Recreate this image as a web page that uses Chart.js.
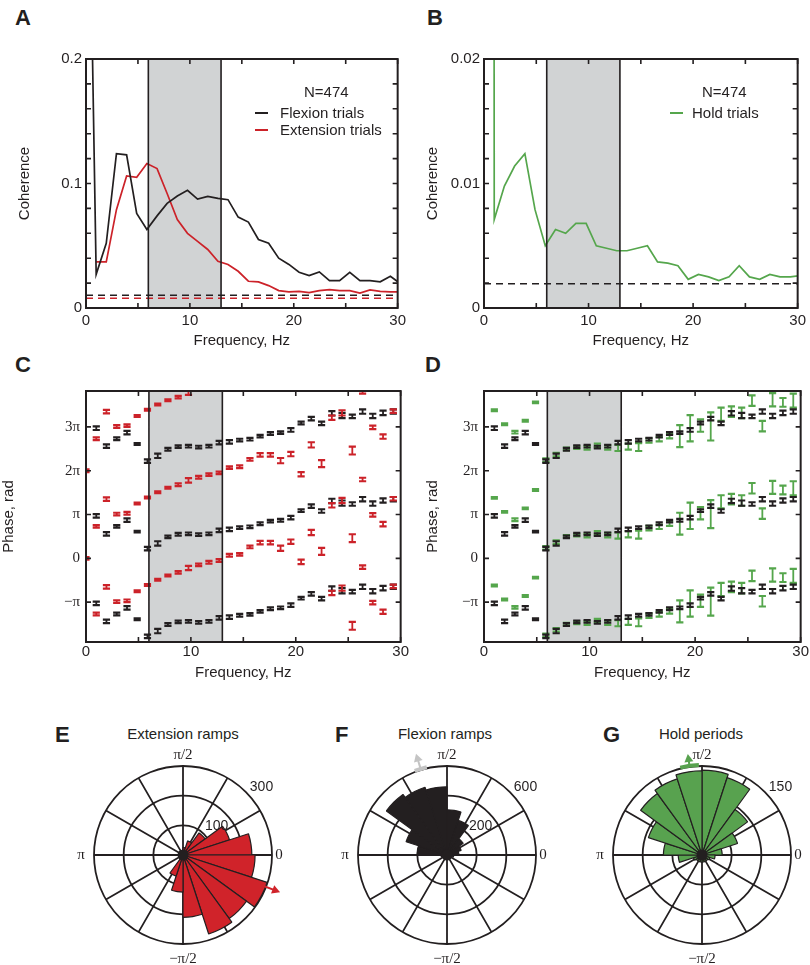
<!DOCTYPE html>
<html lang="en">
<head>
<meta charset="UTF-8">
<title>Coherence and phase</title>
<style>
  body { margin: 0; width: 810px; height: 965px; position: relative; overflow: hidden; background: #fff;
         font-family: 'Liberation Sans', Arial, sans-serif; color: #231f20; }
  canvas { position: absolute; }
  .panel { position: absolute; font-weight: bold; font-size: 22px; line-height: 1; }
  .txt { position: absolute; font-size: 15px; line-height: 1; white-space: nowrap; }
  .ttl { position: absolute; font-size: 15px; line-height: 1; white-space: nowrap; transform: translateX(-50%); }
  .key { position: absolute; height: 2px; width: 13px; }
</style>
</head>
<body>
<div class="panel" style="left:15px;top:7px">A</div>
<div class="panel" style="left:427px;top:7px">B</div>
<div class="panel" style="left:15px;top:354px">C</div>
<div class="panel" style="left:425px;top:354px">D</div>
<div class="panel" style="left:55px;top:724px">E</div>
<div class="panel" style="left:335px;top:724px">F</div>
<div class="panel" style="left:603px;top:724px">G</div>

<canvas id="chartA" width="410" height="310" style="left:0;top:40px"></canvas>
<canvas id="chartB" width="405" height="310" style="left:405px;top:40px"></canvas>
<canvas id="chartC" width="410" height="312" style="left:0;top:370px"></canvas>
<canvas id="chartD" width="405" height="312" style="left:405px;top:370px"></canvas>
<canvas id="chartE" width="220" height="230" style="left:73px;top:745px"></canvas>
<canvas id="chartF" width="220" height="230" style="left:337px;top:745px"></canvas>
<canvas id="chartG" width="220" height="230" style="left:592px;top:745px"></canvas>

<!-- legends -->
<div class="txt" style="left:304px;top:84px">N=474</div>
<div class="key" style="left:255px;top:112px;background:#231f20"></div>
<div class="txt" style="left:280px;top:105px">Flexion trials</div>
<div class="key" style="left:255px;top:129px;background:#cc2229"></div>
<div class="txt" style="left:280px;top:122px">Extension trials</div>
<div class="txt" style="left:702px;top:84px">N=474</div>
<div class="key" style="left:670px;top:112px;background:#55a64c"></div>
<div class="txt" style="left:692px;top:105px">Hold trials</div>

<div class="ttl" style="left:183px;top:726px">Extension ramps</div>
<div class="ttl" style="left:445px;top:726px">Flexion ramps</div>
<div class="ttl" style="left:701px;top:726px">Hold periods</div>

<script src="https://cdn.jsdelivr.net/npm/chart.js"></script>
<script>
// ---- data ----
const freqs = [0, 0.98, 1.95, 2.93, 3.91, 4.88, 5.86, 6.84, 7.81, 8.79, 9.77, 10.74, 11.72, 12.70, 13.67, 14.65,
               15.63, 16.60, 17.58, 18.55, 19.53, 20.51, 21.48, 22.46, 23.44, 24.41, 25.39, 26.37, 27.34, 28.32, 29.30, 30.27];

// coherence (panels A, B)
const flexCoh = [0.51, 0.027, 0.052, 0.124, 0.123, 0.076, 0.063, 0.074, 0.084, 0.090, 0.0945, 0.0875, 0.0897, 0.088, 0.087, 0.073,
                 0.069, 0.055, 0.052, 0.040, 0.035, 0.0287, 0.026, 0.029, 0.022, 0.022, 0.0287, 0.022, 0.022, 0.021, 0.0255, 0.0195];
const extCoh = [null, 0.037, 0.037, 0.079, 0.106, 0.105, 0.116, 0.112, 0.092, 0.071, 0.060, 0.0535, 0.047, 0.0375, 0.035, 0.0295,
                0.0215, 0.021, 0.018, 0.014, 0.013, 0.0134, 0.0123, 0.014, 0.0147, 0.014, 0.014, 0.012, 0.0145, 0.0134, 0.013, 0.013];
const holdCoh = [1.0, 0.0071, 0.0098, 0.0114, 0.0124, 0.0079, 0.0050, 0.0063, 0.0060, 0.0068, 0.0068, 0.0050, 0.0048, 0.0046, 0.0046, 0.0048,
                 0.0050, 0.0037, 0.0036, 0.0034, 0.0023, 0.0027, 0.0025, 0.0022, 0.0025, 0.0034, 0.0025, 0.0023, 0.0027, 0.0025, 0.0025, 0.0026];
const flexSig = 0.0102;
const extSig = 0.0078;
const holdSig = 0.00195;

// phase in units of pi (panels C, D), one value per frequency up to 29.3 Hz
const flexPhase = [null, 0.97, 0.56, 0.73, 0.87, 0.61, 0.22, 0.34, 0.49, 0.55, 0.56, 0.54, 0.56, 0.64, 0.66, 0.70,
                   0.72, 0.79, 0.85, 0.87, 0.93, 1.09, 1.19, 1.08, 1.31, 1.26, 1.24, 1.35, 1.25, 1.32, 1.35];
const flexErr = [null, 0.04, 0.04, 0.03, 0.04, 0.02, 0.04, 0.05, 0.03, 0.03, 0.03, 0.03, 0.03, 0.04, 0.04, 0.03,
                 0.03, 0.03, 0.03, 0.03, 0.04, 0.03, 0.04, 0.04, 0.05, 0.06, 0.04, 0.05, 0.05, 0.05, 0.05];
const extPhase = [0, 0.73, 1.35, 1.01, 1.03, 1.25, 1.39, 1.51, 1.61, 1.68, 1.78, 1.85, 1.91, 1.95, 2.07, 2.09,
                  2.26, 2.36, 2.36, 2.23, 2.38, 1.92, 2.59, 2.16, 1.21, 1.32, 0.46, 1.80, 0.99, 0.78, 1.36];
const extErr = [0.03, 0.03, 0.04, 0.03, 0.03, 0.02, 0.02, 0.02, 0.02, 0.03, 0.05, 0.03, 0.03, 0.03, 0.03, 0.03,
                0.03, 0.04, 0.04, 0.06, 0.05, 0.05, 0.06, 0.08, 0.05, 0.06, 0.09, 0.04, 0.04, 0.05, 0.04];
const holdPhase = [null, 1.38, 1.06, 0.88, 1.14, 1.56, 0.24, 0.37, 0.50, 0.53, 0.52, 0.58, 0.53, 0.52, 0.55, 0.54,
                   0.69, 0.72, 0.79, 0.79, 0.97, 1.03, 1.01, 1.29, 1.35, 1.32, 1.60, 1.02, 1.62, 1.56, 1.60];
const holdErr = [null, 0.02, 0.02, 0.03, 0.02, 0.02, 0.04, 0.04, 0.03, 0.03, 0.04, 0.04, 0.05, 0.07, 0.07, 0.09,
                 0.05, 0.05, 0.05, 0.25, 0.3, 0.14, 0.32, 0.15, 0.12, 0.12, 0.12, 0.12, 0.15, 0.10, 0.16];

// axes ticks
const bandHz = [6, 13];
const freqTicks = [0, 5, 10, 15, 20, 25, 30];
const freqTickLabels = ['0', '', '10', '', '20', '', '30'];
const cohLabelsA = [0, 0.1, 0.2];
const cohLabelsB = [0, 0.01, 0.02];
const phaseTicks = [-1, 0, 1, 2, 3];          // multiples of pi
const phaseTickLabels = ['\u2212\u03c0', '0', '\u03c0', '2\u03c0', '3\u03c0'];

// rose histograms (panels E, F, G), bin centres in degrees
const binCenters = [-171, -153, -135, -117, -99, -81, -63, -45, -27, -9, 9, 27, 45, 63, 81, 99, 117, 135, 153, 171];
const extCounts  = [8, 8, 10, 75, 125, 210, 280, 265, 298, 243, 232, 165, 92, 50, 25, 10, 8, 8, 8, 8];
const flexCounts = [40, 30, 25, 20, 20, 20, 20, 25, 30, 45, 80, 100, 135, 245, 305, 460, 480, 505, 290, 200];
const holdCounts = [40, 15, 12, 12, 12, 12, 12, 12, 14, 22, 34, 63, 95, 137, 143, 142, 135, 128, 95, 65];
const extMean = -21, flexMean = 107, holdMean = 98;   // degrees

// ---- style ----
const ink = '#231f20';
const red = '#cc2229';
const green = '#55a64c';
const shade = '#d1d3d4';
const sans = "'Liberation Sans', Arial, sans-serif";
const serif = "'Liberation Serif', 'Times New Roman', serif";
Chart.defaults.font.family = sans;
Chart.defaults.color = ink;

// gray band, error bars, box and inward ticks
const framePlugin = {
    id: 'frame',
    beforeDatasetsDraw(chart, args, opts) {
        const {ctx, chartArea: a, scales: {x}} = chart;
        const x1 = x.getPixelForValue(opts.band[0]);
        const x2 = x.getPixelForValue(opts.band[1]);
        ctx.save();
        ctx.fillStyle = shade;
        ctx.fillRect(x1, a.top, x2 - x1, a.bottom - a.top);
        ctx.restore();
    },
    afterDatasetsDraw(chart, args, opts) {
        const {ctx, chartArea: a, scales: {x, y}} = chart;
        ctx.save();
        ctx.beginPath();
        ctx.rect(a.left, a.top, a.right - a.left, a.bottom - a.top);
        ctx.clip();
        (opts.bars || []).forEach(set => {
            ctx.strokeStyle = set.color;
            set.points.forEach(p => {
                const px = x.getPixelForValue(p.x);
                const lo = y.getPixelForValue(p.yMin);
                const hi = y.getPixelForValue(p.yMax);
                ctx.lineWidth = 1.8;
                ctx.beginPath();
                ctx.moveTo(px, lo); ctx.lineTo(px, hi);
                ctx.stroke();
                ctx.lineWidth = 2.2;
                ctx.beginPath();
                ctx.moveTo(px - 3.6, lo); ctx.lineTo(px + 3.6, lo);
                ctx.moveTo(px - 3.6, hi); ctx.lineTo(px + 3.6, hi);
                ctx.stroke();
            });
        });
        ctx.restore();

        ctx.save();
        ctx.strokeStyle = ink;
        ctx.lineWidth = 1.6;
        ctx.beginPath();
        opts.band.forEach(b => {
            const px = x.getPixelForValue(b);
            ctx.moveTo(px, a.top); ctx.lineTo(px, a.bottom);
        });
        x.ticks.forEach(t => {
            const px = x.getPixelForValue(t.value);
            ctx.moveTo(px, a.bottom); ctx.lineTo(px, a.bottom - 5);
            ctx.moveTo(px, a.top); ctx.lineTo(px, a.top + 5);
        });
        y.ticks.forEach(t => {
            const py = y.getPixelForValue(t.value);
            ctx.moveTo(a.left, py); ctx.lineTo(a.left + 5, py);
            ctx.moveTo(a.right, py); ctx.lineTo(a.right - 5, py);
        });
        ctx.stroke();
        ctx.lineWidth = 2;
        ctx.strokeRect(a.left, a.top, a.right - a.left, a.bottom - a.top);
        ctx.restore();
    }
};

function xAxis(height, pad) {
    return {
        type: 'linear', min: 0, max: 30,
        afterBuildTicks: s => { s.ticks = freqTicks.map(v => ({value: v})); },
        ticks: {autoSkip: false, maxRotation: 0, padding: pad, font: {size: 15},
                callback: (v, i) => freqTickLabels[i]},
        grid: {display: false, drawTicks: false},
        border: {display: false},
        title: {display: true, text: 'Frequency, Hz', font: {size: 15}, padding: {top: 0, bottom: 0}},
        afterFit: s => { s.height = height; }
    };
}

function lineSet(ys, color, width) {
    return {
        data: freqs.map((f, i) => ({x: f, y: ys[i]})).filter(p => p.y !== null),
        showLine: true, borderColor: color, borderWidth: width, pointRadius: 0, fill: false
    };
}

function sigSet(level, color) {
    return {
        data: [{x: 0, y: level}, {x: 30, y: level}],
        showLine: true, borderColor: color, borderWidth: 1.6, borderDash: [7, 5], pointRadius: 0
    };
}

function cohChart(id, datasets, top, labels, yWidth, titlePad) {
    return new Chart(document.getElementById(id), {
        type: 'scatter',
        data: {datasets},
        options: {
            responsive: false, animation: false,
            layout: {padding: {top: 19, right: id === 'chartA' ? 7 : 8, bottom: 0, left: 0}},
            plugins: {legend: {display: false}, tooltip: {enabled: false}, frame: {band: bandHz}},
            scales: {
                x: xAxis(42, 4),
                y: {
                    min: 0, max: top,
                    ticks: {stepSize: top / 10, autoSkip: false, padding: 4, font: {size: 15},
                            callback: v => {
                                const hit = labels.find(l => Math.abs(l - v) < top / 1000);
                                return hit === undefined ? '' : String(hit);
                            }},
                    grid: {display: false, drawTicks: false},
                    border: {display: false},
                    title: {display: true, text: 'Coherence', font: {size: 15}, padding: {top: titlePad, bottom: 0}},
                    afterFit: s => { s.width = yWidth; }
                }
            }
        },
        plugins: [framePlugin]
    });
}

cohChart('chartA', [
    lineSet(flexCoh, ink, 1.7),
    lineSet(extCoh, red, 1.7),
    sigSet(flexSig, ink),
    sigSet(extSig, red)
], 0.2, cohLabelsA, 86, 16);

cohChart('chartB', [
    lineSet(holdCoh, green, 1.7),
    sigSet(holdSig, ink)
], 0.02, cohLabelsB, 79, 19);

// each phase is shown three times, shifted by -2pi, 0, +2pi
function phasePoints(phase, err) {
    const pts = [];
    [-2, 0, 2].forEach(k => {
        phase.forEach((p, i) => {
            if (p === null) return;
            const c = (p + k) * Math.PI;
            const e = err[i] * Math.PI;
            pts.push({x: freqs[i], y: c, yMin: c - e, yMax: c + e});
        });
    });
    return pts;
}

function phaseChart(id, bars, yWidth, titlePad, tickPad) {
    return new Chart(document.getElementById(id), {
        type: 'scatter',
        data: {datasets: bars.map(b => ({data: b.points, pointRadius: 0, showLine: false}))},
        options: {
            responsive: false, animation: false,
            layout: {padding: {top: 21, right: id === 'chartC' ? 7 : 4, bottom: 0, left: 0}},
            plugins: {legend: {display: false}, tooltip: {enabled: false}, frame: {band: bandHz, bars}},
            scales: {
                x: xAxis(40, 1),
                y: {
                    min: -6, max: 12,
                    afterBuildTicks: s => { s.ticks = phaseTicks.map(v => ({value: v * Math.PI})); },
                    ticks: {autoSkip: false, padding: tickPad, font: {size: 15, family: serif},
                            callback: (v, i) => phaseTickLabels[i]},
                    grid: {display: false, drawTicks: false},
                    border: {display: false},
                    title: {display: true, text: 'Phase, rad', font: {size: 15}, padding: {top: titlePad, bottom: 0}},
                    afterFit: s => { s.width = yWidth; }
                }
            }
        },
        plugins: [framePlugin]
    });
}

phaseChart('chartC', [
    {color: ink, points: phasePoints(flexPhase, flexErr)},
    {color: red, points: phasePoints(extPhase, extErr)}
], 86, 0, 6);

phaseChart('chartD', [
    {color: green, points: phasePoints(holdPhase, holdErr)},
    {color: ink, points: phasePoints(flexPhase, flexErr)}
], 79, 19, 6);

// spokes, centre, angle labels, ring labels, mean-direction arrow
const compassPlugin = {
    id: 'compass',
    beforeDatasetsDraw(chart) {
        const s = chart.scales.r;
        const {ctx} = chart;
        const R = s.drawingArea;
        ctx.save();
        ctx.strokeStyle = ink;
        ctx.lineWidth = 1.8;
        ctx.beginPath();
        for (let k = 0; k < 6; k++) {
            const t = k * Math.PI / 6;
            ctx.moveTo(s.xCenter - R * Math.cos(t), s.yCenter + R * Math.sin(t));
            ctx.lineTo(s.xCenter + R * Math.cos(t), s.yCenter - R * Math.sin(t));
        }
        ctx.stroke();
        ctx.restore();
    },
    afterDatasetsDraw(chart, args, opts) {
        const s = chart.scales.r;
        const {ctx} = chart;
        const R = s.drawingArea, cx = s.xCenter, cy = s.yCenter;
        ctx.save();
        ctx.fillStyle = ink;
        ctx.beginPath();
        ctx.arc(cx, cy, 5.5, 0, 2 * Math.PI);
        ctx.fill();

        ctx.font = '15px ' + serif;
        ctx.textAlign = 'center';
        ctx.textBaseline = 'middle';
        ctx.fillText('\u03c0/2', cx, cy - R - 11);
        ctx.fillText('\u2212\u03c0/2', cx, cy + R + 15);
        ctx.fillText('\u03c0', cx - R - 13, cy);
        ctx.fillText('0', cx + R + 7, cy);

        ctx.font = '14px ' + sans;
        const ra = 41 * Math.PI / 180;
        opts.rings.forEach(v => {
            const r = s.getDistanceFromCenterForValue(v) + 15;
            ctx.fillText(String(v), cx + r * Math.cos(ra), cy - r * Math.sin(ra));
        });

        const m = opts.mean;
        const t = m.angle * Math.PI / 180;
        const ux = Math.cos(t), uy = -Math.sin(t);
        const nx = -uy, ny = ux;
        ctx.strokeStyle = m.color;
        ctx.fillStyle = m.color;
        if (m.ci) {
            ctx.lineWidth = 4;
            ctx.beginPath();
            ctx.arc(cx, cy, R + 1, -(m.angle + m.ci) * Math.PI / 180, -(m.angle - m.ci) * Math.PI / 180);
            ctx.stroke();
        }
        const r0 = R + m.from, r1 = R + m.to;
        ctx.lineWidth = 2;
        ctx.beginPath();
        ctx.moveTo(cx + ux * r0, cy + uy * r0);
        ctx.lineTo(cx + ux * (r1 - 6), cy + uy * (r1 - 6));
        ctx.stroke();
        ctx.beginPath();
        ctx.moveTo(cx + ux * r1, cy + uy * r1);
        ctx.lineTo(cx + ux * (r1 - 8) + nx * 4.5, cy + uy * (r1 - 8) + ny * 4.5);
        ctx.lineTo(cx + ux * (r1 - 8) - nx * 4.5, cy + uy * (r1 - 8) - ny * 4.5);
        ctx.closePath();
        ctx.fill();
        ctx.restore();
    }
};

function roseChart(id, counts, fill, max, step, rings, mean) {
    // polarArea runs clockwise from the top, so order bins by angle clockwise from +90 deg
    const key = c => (90 - c + 360) % 360;
    const order = binCenters.map((c, i) => i).sort((a, b) => key(binCenters[a]) - key(binCenters[b]));
    return new Chart(document.getElementById(id), {
        type: 'polarArea',
        data: {
            labels: order.map(i => binCenters[i]),
            datasets: [{
                data: order.map(i => counts[i]),
                backgroundColor: fill, borderColor: ink, borderWidth: 1.2
            }]
        },
        options: {
            responsive: false, animation: false,
            layout: {padding: {left: 21, right: 21, top: 21, bottom: 31}},
            plugins: {legend: {display: false}, tooltip: {enabled: false}, compass: {rings, mean}},
            scales: {
                r: {
                    min: 0, max, startAngle: 0,
                    ticks: {display: false, stepSize: step},
                    grid: {color: ink, lineWidth: 1.8, circular: true},
                    angleLines: {display: false},
                    pointLabels: {display: false}
                }
            }
        },
        plugins: [compassPlugin]
    });
}

roseChart('chartE', extCounts, '#d0232a', 300, 100, [100, 300],
          {angle: extMean, color: '#d0232a', from: -6, to: 15, ci: 0});
roseChart('chartF', flexCounts, ink, 600, 200, [200, 600],
          {angle: flexMean, color: '#c4c4c4', from: -1, to: 17, ci: 4});
roseChart('chartG', holdCounts, '#58a24f', 150, 50, [150],
          {angle: holdMean, color: '#58a24f', from: 0, to: 13, ci: 6});
</script>
</body>
</html>
